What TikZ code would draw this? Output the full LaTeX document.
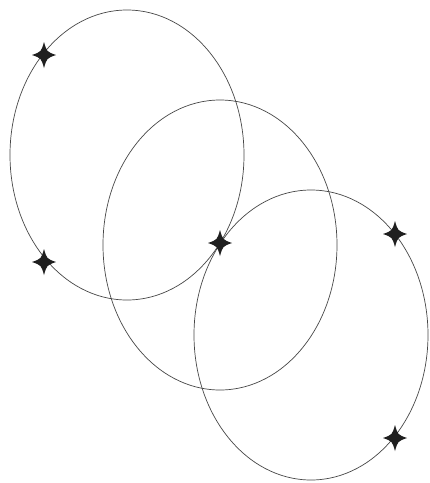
\documentclass[tikz,border=0pt]{standalone}
\usetikzlibrary{calc}

\tikzset{
  ring/.style={draw=black!72, line width=0.7pt},
  sparkle/.pic={
    \fill[black!88] (0,-13) .. controls (2.8,-3.2) .. (12,0)
      .. controls (2.8,3.2) .. (0,13) .. controls (-2.8,3.2) .. (-12,0)
      .. controls (-2.8,-3.2) .. cycle;
  }
}

\begin{document}
\begin{tikzpicture}[x=1pt, y=-1pt]
  % canvas
  \fill[white] (0,0) rectangle (430,483);
  \useasboundingbox (0,0) rectangle (430,483);

  % ring centres
  \coordinate (c1) at (127,155);
  \coordinate (c2) at (220,245);
  \coordinate (c3) at (311,335);

  % rings
  \foreach \c in {c1, c2, c3} {
    \draw[ring] (\c) ellipse [x radius=117, y radius=145];
  }

  % sparkles
  \pic (s1) at (44,55) {sparkle};
  \pic (s2) at (44,262) {sparkle};
  \pic (s3) at (220,243) {sparkle};
  \pic (s4) at (395,234) {sparkle};
  \pic (s5) at (395,438) {sparkle};
\end{tikzpicture}
\end{document}
